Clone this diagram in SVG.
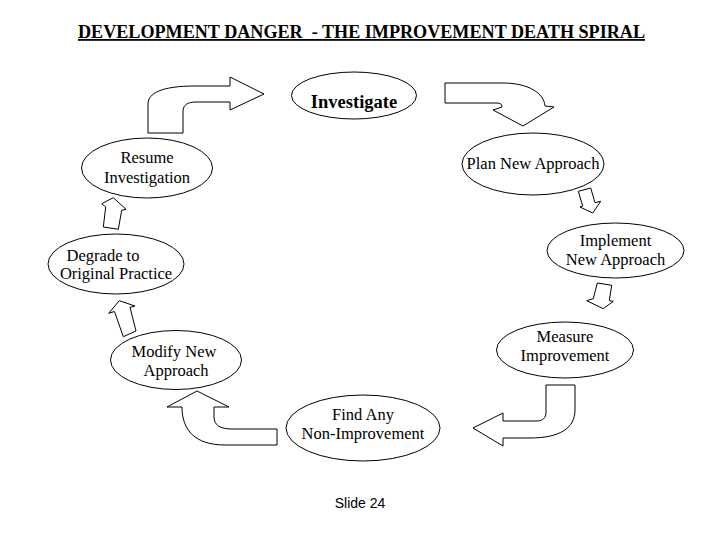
<svg xmlns="http://www.w3.org/2000/svg" width="720" height="540" viewBox="0 0 720 540">
<style>
.bg{fill:#ffffff}
.node ellipse{fill:#ffffff;stroke:#000000;stroke-width:1}
.node text{font-family:"Liberation Serif","Times New Roman",serif;font-size:16.5px;fill:#000000;text-anchor:middle}
.node text.bold{font-weight:bold;font-size:18.5px}
.arrow{fill:#ffffff;stroke:#000000;stroke-width:1;stroke-linejoin:miter}
.title{font-family:"Liberation Serif","Times New Roman",serif;font-size:18px;font-weight:bold;fill:#000000;text-decoration:underline}
.slide{font-family:"Liberation Sans",Arial,sans-serif;font-size:14px;fill:#000000;text-anchor:middle}
</style>
<rect class="bg" x="0" y="0" width="720" height="540"/>
<text class="title" x="78" y="38" textLength="567" lengthAdjust="spacingAndGlyphs">DEVELOPMENT DANGER&#160; - THE IMPROVEMENT DEATH SPIRAL</text>

<g id="connectors">
  <path id="arrow-resume-investigate" class="arrow" d="M148,133 L148,104 C148,93 162,86 195,86 L230,86 L230,77 L264,94 L230,110 L230,102 L196,102 C188,102 183,105 183,111 L183,133 Z"/>
  <path id="arrow-investigate-plan" class="arrow" d="M445,83 L503,83 C528,83 544,93 545,106 L554,107 L523,126 L493,110 L502,107 C502,104 500,103 497,103 L445,103 Z"/>
  <polygon id="arrow-plan-implement" class="arrow" points="578.3,191.3 590.7,188 595,202.7 600.7,201.3 592.7,213 580,207 582.7,206"/>
  <polygon id="arrow-implement-measure" class="arrow" points="597.3,283 611.7,285.3 609.3,300.7 613.3,301.3 603.3,308.7 586.7,300.7 593.3,298.7"/>
  <path id="arrow-measure-find" class="arrow" d="M546,385 L575,385 L575,410 C575,428 560,438 530,438 L503,438 L503,446 L473,428 L503,413 L503,421 L536,421 C543,421 546,418 546,412 Z"/>
  <path id="arrow-find-modify" class="arrow" d="M277,429 L277,445 L225,445 C195,445 182,430 182,407 L167,407 L197,391 L229,407 L214,407 L214,417 C214,425 220,429 232,429 Z"/>
  <polygon id="arrow-modify-degrade" class="arrow" points="119.3,300.7 135,306 130,307.3 136,331 123.3,336.7 114.5,311.5 108.7,313.3"/>
  <polygon id="arrow-degrade-resume" class="arrow" points="113.3,197.7 126,209.3 121.7,210.3 118.3,229.3 103.3,227 105.7,207 101.7,203.7"/>
</g>

<g id="node-investigate" class="node">
  <ellipse cx="354" cy="95.5" rx="62.5" ry="23.5"/>
  <text class="bold" x="354" y="108">Investigate</text>
</g>
<g id="node-plan" class="node">
  <ellipse cx="533" cy="164" rx="71" ry="31"/>
  <text x="533" y="169">Plan New Approach</text>
</g>
<g id="node-implement" class="node">
  <ellipse cx="615.5" cy="250.5" rx="68.5" ry="27.5"/>
  <text x="615.5" y="246">Implement</text>
  <text x="615.5" y="265">New Approach</text>
</g>
<g id="node-measure" class="node">
  <ellipse cx="565" cy="350" rx="68.5" ry="28"/>
  <text x="565" y="342">Measure</text>
  <text x="565" y="361">Improvement</text>
</g>
<g id="node-find" class="node">
  <ellipse cx="363" cy="428" rx="77" ry="33"/>
  <text x="363" y="420">Find Any</text>
  <text x="363" y="439">Non-Improvement</text>
</g>
<g id="node-modify" class="node">
  <ellipse cx="176" cy="360" rx="65.5" ry="29.5"/>
  <text x="174" y="357">Modify New</text>
  <text x="176" y="376">Approach</text>
</g>
<g id="node-degrade" class="node">
  <ellipse cx="116" cy="264" rx="68" ry="30"/>
  <text x="103" y="261">Degrade to</text>
  <text x="116" y="279">Original Practice</text>
</g>
<g id="node-resume" class="node">
  <ellipse cx="147" cy="168" rx="65.5" ry="30"/>
  <text x="147" y="163">Resume</text>
  <text x="147" y="183">Investigation</text>
</g>

<text class="slide" x="360" y="508">Slide 24</text>
</svg>
